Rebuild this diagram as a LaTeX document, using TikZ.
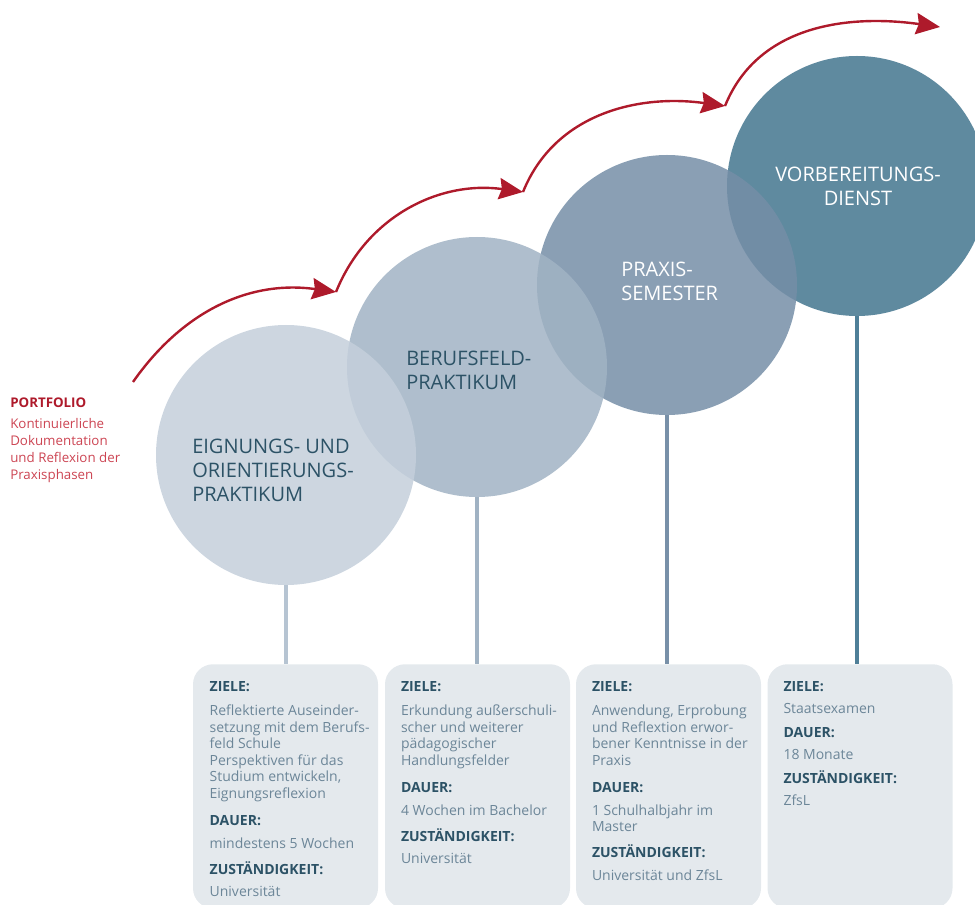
\documentclass[tikz,border=0pt]{standalone}
\usepackage{fontspec}
\setmainfont{Open Sans}
\usepackage{xcolor}
\usetikzlibrary{arrows.meta}

\definecolor{phaseA}{HTML}{C4CFDB}
\definecolor{phaseB}{HTML}{A1B3C4}
\definecolor{phaseC}{HTML}{758EA7}
\definecolor{phaseD}{HTML}{43758E}
\definecolor{stemA}{HTML}{B6C4D2}
\definecolor{stemB}{HTML}{A0B2C3}
\definecolor{stemC}{HTML}{7890A8}
\definecolor{stemD}{HTML}{4F7F98}
\definecolor{boxgray}{HTML}{E4E9ED}
\definecolor{headteal}{HTML}{2C5266}
\definecolor{bodygray}{HTML}{6C8698}
\definecolor{arrowred}{HTML}{AE1A2B}
\definecolor{portred}{HTML}{CC4553}

\newcommand{\hd}[1]{{\bfseries\color{headteal}#1}}

\tikzset{
  phase/.style={circle, minimum size=195pt, inner sep=0pt, fill opacity=0.85},
  phaselabel/.style={inner sep=0pt, align=left, font=\fontsize{15}{18}\selectfont},
  stem/.style={line width=2.4pt},
  infobox/.style={fill=boxgray, rounded corners=15pt, minimum width=138.75pt,
    minimum height=183pt, anchor=north},
  infotext/.style={inner sep=0pt, anchor=north west, align=left, text=bodygray,
    font=\fontsize{10.5}{12.45}\selectfont},
  steparrow/.style={arrowred, line width=1.8pt,
    -{Stealth[length=18pt, width=16pt, inset=2pt]}}
}

\begin{document}
\begin{tikzpicture}[x=0.75pt, y=-0.75pt]
    \clip (0,0) rectangle (975,905);

    % Phase circles (earlier phase lies on top)
    \node[phase, fill=phaseD] (c4) at (857,186) {};
    \node[phase, fill=phaseC] (c3) at (667,285) {};
    \node[phase, fill=phaseB] (c2) at (477,367) {};
    \node[phase, fill=phaseA] (c1) at (286,455) {};

    % Phase names
    \node[phaselabel, anchor=north west, text=headteal] (t1) at (192,439)
      {EIGNUNGS- UND\\ORIENTIERUNGS-\\PRAKTIKUM};
    \node[phaselabel, anchor=north west, text=headteal] (t2) at (406,351)
      {BERUFSFELD-\\PRAKTIKUM};
    \node[phaselabel, anchor=north west, text=white] (t3) at (621,262)
      {PRAXIS-\\SEMESTER};
    \node[phaselabel, anchor=north, align=center, text=white] (t4) at (858,167)
      {VORBEREITUNGS-\\DIENST};

    % Info boxes
    \node[infobox] (b1) at (285.5,664) {};
    \node[infobox] (b2) at (477.5,664) {};
    \node[infobox] (b3) at (668.5,664) {};
    \node[infobox] (b4) at (860,664) {};

    % Stems from circles to boxes
    \draw[stem, stemA] (c1.south) -- (c1.south |- b1.north);
    \draw[stem, stemB] (c2.south) -- (c2.south |- b2.north);
    \draw[stem, stemC] (c3.south) -- (c3.south |- b3.north);
    \draw[stem, stemD] (c4.south) -- (c4.south |- b4.north);

    % Box texts
    \node[infotext] (i1) at ([xshift=12.5pt, yshift=-13pt]b1.north west)
      {\hd{ZIELE:}\\[5.5pt]
       Reflektierte Auseinder-\\
       setzung mit dem Berufs-\\
       feld Schule\\
       Perspektiven für das\\
       Studium entwickeln,\\
       Eignungsreflexion\\[8pt]
       \hd{DAUER:}\\[4.5pt]
       mindestens 5 Wochen\\[7pt]
       \hd{ZUSTÄNDIGKEIT:}\\[4.5pt]
       Universität};
    \node[infotext] (i2) at ([xshift=12pt, yshift=-13pt]b2.north west)
      {\hd{ZIELE:}\\[5.5pt]
       Erkundung außerschuli-\\
       scher und weiterer\\
       pädagogischer\\
       Handlungsfelder\\[8pt]
       \hd{DAUER:}\\[4.5pt]
       4 Wochen im Bachelor\\[7pt]
       \hd{ZUSTÄNDIGKEIT:}\\[4.5pt]
       Universität};
    \node[infotext] (i3) at ([xshift=12pt, yshift=-13pt]b3.north west)
      {\hd{ZIELE:}\\[5.5pt]
       Anwendung, Erprobung\\
       und Reflextion erwor-\\
       bener Kenntnisse in der\\
       Praxis\\[8pt]
       \hd{DAUER:}\\[4.5pt]
       1 Schulhalbjahr im\\
       Master\\[7pt]
       \hd{ZUSTÄNDIGKEIT:}\\[4.5pt]
       Universität und ZfsL};
    \node[infotext] (i4) at ([xshift=12pt, yshift=-13pt]b4.north west)
      {\hd{ZIELE:}\\[4pt]
       Staatsexamen\\[5.5pt]
       \hd{DAUER:}\\[4pt]
       18 Monate\\[5.5pt]
       \hd{ZUSTÄNDIGKEIT:}\\[4pt]
       ZfsL};

    % Portfolio note
    \node[inner sep=0pt, anchor=north west, align=left, text=portred,
      font=\fontsize{10}{12.75}\selectfont] (pf) at (10,398)
      {{\bfseries\color{arrowred}PORTFOLIO}\\[3pt]
       Kontinuierliche\\
       Dokumentation\\
       und Reflexion der\\
       Praxisphasen};

    % Red step arrows
    \coordinate (a0) at (133,382);
    \coordinate (a1) at (336,292);
    \coordinate (a2) at (523,192);
    \coordinate (a3) at (725,106);
    \coordinate (a4) at (940,27);
    \draw[steparrow] (a0) to[out=55, in=172] (a1);
    \draw[steparrow] (a1) to[out=68, in=172] (a2);
    \draw[steparrow] (a2) to[out=68, in=172] (a3);
    \draw[steparrow] (a3) to[out=68, in=172] (a4);
\end{tikzpicture}
\end{document}
